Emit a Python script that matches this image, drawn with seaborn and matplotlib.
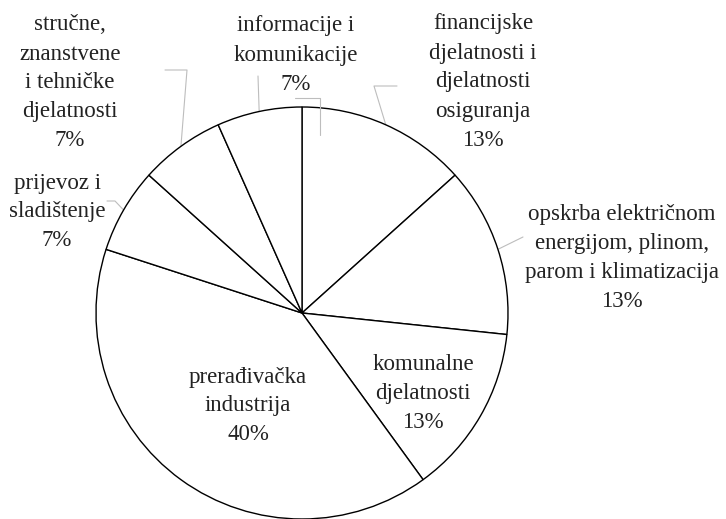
import numpy as np
import seaborn as sns
from matplotlib import pyplot as plt

# udjeli po djelatnostima (redom od vrha, u smjeru kazaljke)
categories = [
    "financijske\ndjelatnosti i\ndjelatnosti\nosiguranja",
    "opskrba električnom\nenergijom, plinom,\nparom i klimatizacija",
    "komunalne\ndjelatnosti",
    "prerađivačka\nindustrija",
    "prijevoz i\nsladištenje",
    "stručne,\nznanstvene\ni tehničke\ndjelatnosti",
    "informacije i\nkomunikacije",
]
counts = [2, 2, 2, 6, 1, 1, 1]
pct_labels = ["13%", "13%", "13%", "40%", "7%", "7%", "7%"]

sns.set_style("white")
plt.rcParams["font.family"] = ["Liberation Serif", "DejaVu Serif"]

W, H = 726, 519
fig = plt.figure(figsize=(W / 100, H / 100), dpi=100)
ax = fig.add_axes([0, 0, 1, 1])

cx, cy, r = 302, H - 313, 206
wedges, _ = ax.pie(counts, center=(cx, cy), radius=r, startangle=90,
                   counterclock=False, colors=["white"] * len(counts),
                   wedgeprops=dict(edgecolor="black", linewidth=1.0),
                   frame=True)
ax.set_xlim(0, W)
ax.set_ylim(0, H)
ax.axis("off")

# label placement (pixel coords from top-left) and leader elbows
label_pos = [(483, 82), (622, 258), (423, 393), (248, 406), (57, 212), (70, 83), (296, 55)]
leaders = {
    0: [(374, 86), (397, 86)],
    1: [(523, 237)],
    4: [(115, 201), (107, 201)],
    5: [(187, 70), (165, 70)],
    6: [(258, 76)],
}

for i, w in enumerate(wedges):
    x, y = label_pos[i]
    ax.text(x, H - y, categories[i] + "\n" + pct_labels[i], ha="center", va="center",
            fontsize=16.5, color="#222222", linespacing=1.5)
    if i in leaders:
        mid = np.deg2rad((w.theta1 + w.theta2) / 2)
        pts = [(cx + r * np.cos(mid), cy + r * np.sin(mid))]
        pts += [(px, H - py) for px, py in leaders[i]]
        xs, ys = zip(*pts)
        ax.plot(xs, ys, color="#bdbdbd", lw=0.8, zorder=0.5)

# stray bracket near the top
ax.plot([320, 320, 295], [H - 135, H - 98, H - 98], color="#bdbdbd", lw=0.8, zorder=3)

fig.savefig("out.png", dpi=100)
plt.close(fig)
